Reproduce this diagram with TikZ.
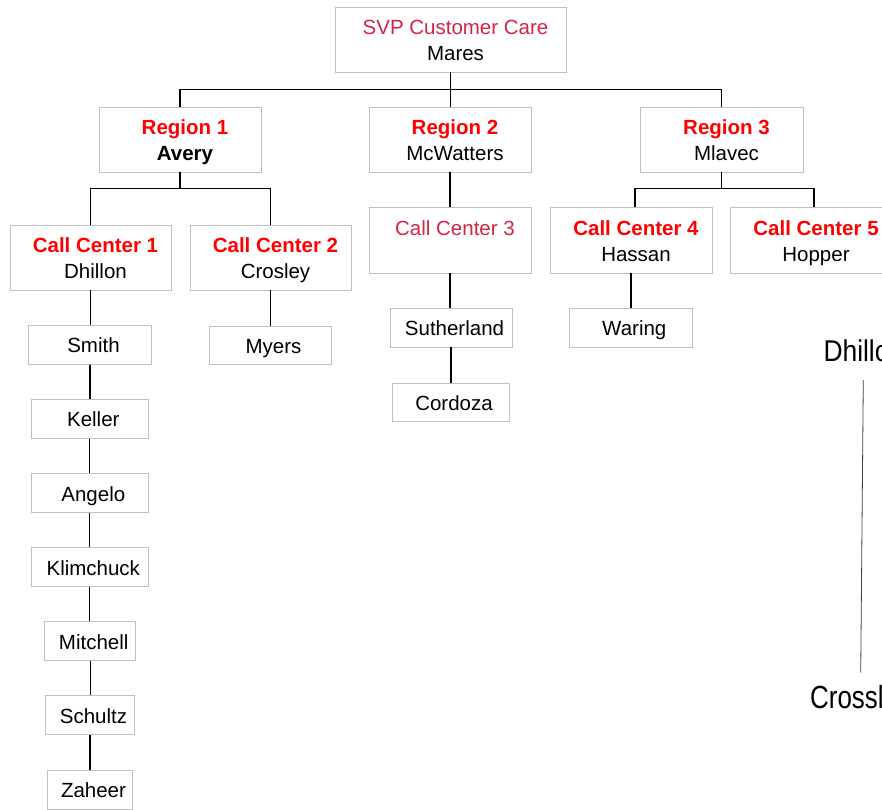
\documentclass[tikz,border=0pt]{standalone}
\usepackage{fontspec}
\usepackage{graphicx}
\setmainfont{Liberation Sans}
\definecolor{crim}{RGB}{212,36,68}
\definecolor{bordergray}{RGB}{192,192,192}
\newcommand\twol[2]{\rule{0pt}{21pt}\hspace*{10pt}#1\\\hspace*{10pt}#2\rule[-5pt]{0pt}{5pt}}
\newcommand\onel[1]{\rule[-5pt]{0pt}{26pt}\hspace*{7pt}#1}
\newcommand\redb[1]{\textcolor{red}{\textbf{#1}}}
\begin{document}
\begin{tikzpicture}[x=1pt,y=-1pt,
  box/.style={draw=bordergray,line width=0.9pt,inner sep=0pt,align=center,
    font=\fontsize{20.5}{26}\selectfont},
  conn/.style={draw=black,line width=1.3pt},
  big/.style={inner sep=0pt,anchor=base west}]
\useasboundingbox (0,0) rectangle (882,809);
\clip (0,0) rectangle (882,809);
% top
\node[box,minimum width=231,minimum height=65] (svp) at (450.5,39.5)
  {\twol{\textcolor{crim}{SVP Customer Care}}{Mares}};
% regions
\node[box,minimum width=162,minimum height=65] (r1) at (180,139.5)
  {\twol{\redb{Region 1}}{\textbf{Avery}}};
\node[box,minimum width=162,minimum height=65] (r2) at (450,139.5)
  {\twol{\redb{Region 2}}{McWatters}};
\node[box,minimum width=163,minimum height=65] (r3) at (721.5,139.5)
  {\twol{\redb{Region 3}}{Mlavec}};
% call centers
\node[box,minimum width=161,minimum height=65] (cc1) at (90.5,257.5)
  {\twol{\redb{Call Center 1}}{Dhillon}};
\node[box,minimum width=161,minimum height=65] (cc2) at (270.5,257.5)
  {\twol{\redb{Call Center 2}}{Crosley}};
\node[box,minimum width=162,minimum height=66] (cc3) at (450,240)
  {\twol{\textcolor{crim}{Call Center 3}}{}};
\node[box,minimum width=162,minimum height=66] (cc4) at (631,240)
  {\twol{\redb{Call Center 4}}{Hassan}};
\node[box,minimum width=162,minimum height=66] (cc5) at (811,240)
  {\twol{\redb{Call Center 5}}{Hopper}};
% agents
\node[box,minimum width=123,minimum height=39] (smith) at (90,344.7) {\onel{Smith}};
\node[box,minimum width=117,minimum height=39] (keller) at (89.8,418.8) {\onel{Keller}};
\node[box,minimum width=117,minimum height=39] (angelo) at (89.8,493.2) {\onel{Angelo}};
\node[box,minimum width=117,minimum height=39] (klim) at (89.8,567.2) {\onel{Klimchuck}};
\node[box,minimum width=91,minimum height=39] (mitch) at (90.2,641.2) {\onel{Mitchell}};
\node[box,minimum width=88.6,minimum height=39] (schultz) at (90,715.2) {\onel{Schultz}};
\node[box,minimum width=85.4,minimum height=39] (zaheer) at (90,789.5) {\onel{Zaheer}};
\node[box,minimum width=122,minimum height=38] (myers) at (270,345) {\onel{Myers}};
\node[box,minimum width=122,minimum height=39] (suth) at (451,327.5) {\onel{Sutherland}};
\node[box,minimum width=117,minimum height=38] (cord) at (450.5,402) {\onel{Cordoza}};
\node[box,minimum width=123,minimum height=39] (waring) at (630.8,327.8) {\onel{Waring}};
% connectors
\draw[conn] (svp.south) -- (svp.south |- r2.north);
\draw[conn] (r1.north) -- ++(0,-17) -| (r3.north);
\draw[conn] (r1.south) -- ++(0,17);
\draw[conn] (cc1.north) -- ++(0,-36) -| (cc2.north);
\draw[conn] (r2.south) -- (r2.south |- cc3.north);
\draw[conn] (r3.south) -- ++(0,17);
\draw[conn] ([xshift=4pt]cc4.north) -- ++(0,-18) -| ([xshift=3pt]cc5.north);
\draw[conn] (cc1.south) -- (cc1.south |- smith.north);
\draw[conn] (smith.south) -- (smith.south |- keller.north);
\draw[conn] (keller.south) -- (keller.south |- angelo.north);
\draw[conn] (angelo.south) -- (angelo.south |- klim.north);
\draw[conn] (klim.south) -- (klim.south |- mitch.north);
\draw[conn] (mitch.south) -- (mitch.south |- schultz.north);
\draw[conn] (schultz.south) -- (schultz.south |- zaheer.north);
\draw[conn] (cc2.south) -- (cc2.south |- myers.north);
\draw[conn] (cc3.south) -- (cc3.south |- suth.north);
\draw[conn] (suth.south) -- (suth.south |- cord.north);
\draw[conn] (cc4.south) -- (cc4.south |- waring.north);
% stray labels on the right (cut off by the right edge, as in the reference)
\node[big,font=\fontsize{30}{32}\selectfont] (dh) at (823.3,361.7) {\scalebox{0.88}[1]{Dhillon}};
\node[big,font=\fontsize{32}{34}\selectfont] (cr) at (810,708) {\scalebox{0.81}[1]{Crossley}};
\coordinate (dhl) at (863.3,380);
\coordinate (crl) at (860.7,672.7);
\draw[line width=0.8pt,black!75] (dhl) -- (crl);
\end{tikzpicture}
\end{document}
